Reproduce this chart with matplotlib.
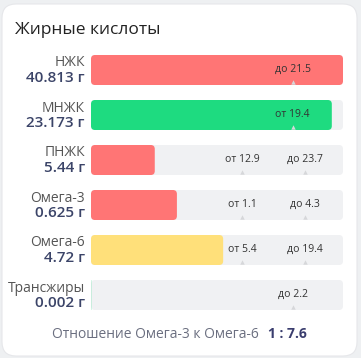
import matplotlib.pyplot as plt
from matplotlib.patches import FancyBboxPatch

plt.rcParams['font.family'] = ['Open Sans', 'DejaVu Sans']

# данные
names = ['НЖК', 'МНЖК', 'ПНЖК', 'Омега-3', 'Омега-6', 'Трансжиры']
values = [40.813, 23.173, 5.44, 0.625, 4.72, 0.002]
value_labels = ['40.813 г', '23.173 г', '5.44 г', '0.625 г', '4.72 г', '0.002 г']
low = [None, 19.4, 12.9, 1.1, 5.4, None]
high = [21.5, None, 23.7, 4.3, 19.4, 2.2]
colors = ['#ff7575', '#1edb80', '#ff7575', '#ff7575', '#ffe07a', '#1edb80']
ratio = '1 : 7.6'

W, H = 361, 358
fig = plt.figure(figsize=(W / 100, H / 100), dpi=100)
fig.patch.set_facecolor('#eef0f2')

# фон-карточка
bg = fig.add_axes([0, 0, 1, 1])
bg.set_xlim(0, W)
bg.set_ylim(H, 0)
bg.axis('off')
bg.add_patch(FancyBboxPatch((2, 4), 355, 352, boxstyle='round,pad=0,rounding_size=14',
                            fc='white', ec='#e6e7ea', lw=0.8))
bg.text(15, 30, 'Жирные кислоты', fontsize=12.5, color='#222222', va='center', ha='left')

# полосы
x0, x1 = 91, 343
top, row_h, bar_h = 55, 45, 30
n = len(names)
ax_h = (n - 1) * row_h + bar_h
ax = fig.add_axes([x0 / W, 1 - (top + ax_h) / H, (x1 - x0) / W, ax_h / H])
ax.set_xlim(0, 1)
half = bar_h / row_h / 2
ax.set_ylim(n - 1 + half, -half)
ax.axis('off')

LOW_POS, HIGH_POS, SINGLE_POS = 0.6, 0.85, 0.8


def frac(i):
    if low[i] is not None and high[i] is not None:
        f = values[i] / low[i] * LOW_POS
    elif low[i] is not None:
        f = values[i] / low[i] * SINGLE_POS
    else:
        f = values[i] / high[i] * SINGLE_POS
    return min(f, 1.0)


fracs = [frac(i) for i in range(n)]
rows = list(range(n))
tracks = ax.barh(rows, [1] * n, height=2 * half, left=0, color='none')
bars = ax.barh(rows, fracs, height=2 * half, left=0, color='none')

r = 4 / (x1 - x0)
asp = (x1 - x0) / row_h
for rect_list, cols in ((tracks, ['#f0f1f3'] * n), (bars, colors)):
    for rect, c in zip(rect_list, cols):
        w = rect.get_width()
        if w <= 0:
            continue
        rs = min(r, w / 2)
        ax.add_patch(FancyBboxPatch((rect.get_x(), rect.get_y()), w, rect.get_height(),
                                    boxstyle=f'round,pad=0,rounding_size={rs}',
                                    mutation_aspect=asp, fc=c, ec='none'))

for i in range(n):
    if low[i] is not None and high[i] is not None:
        marks = [(LOW_POS, f'от {low[i]:g}'), (HIGH_POS, f'до {high[i]:g}')]
    elif low[i] is not None:
        marks = [(SINGLE_POS, f'от {low[i]:g}')]
    else:
        marks = [(SINGLE_POS, f'до {high[i]:g}')]
    for pos, lab in marks:
        ax.text(pos, i - 0.02, lab, fontsize=7.5, color='#333333', ha='center', va='center')
        ax.plot(pos, i + half - 0.06, marker='^', ms=3.2, color='#d6d7da', mec='none')

# подписи слева
for i in range(n):
    yc = top + i * row_h + bar_h / 2
    bg.text(85, yc - 7, names[i], fontsize=10, color='#555555', ha='right', va='center')
    bg.text(85, yc + 8, value_labels[i], fontsize=11, color='#3b4468', ha='right',
            va='center', fontweight='semibold')

bg.text(259, 334, 'Отношение Омега-3 к Омега-6', fontsize=10, color='#6b6f80',
        ha='right', va='center')
bg.text(268, 334, ratio, fontsize=10, color='#3a3d6e', ha='left', va='center',
        fontweight='bold')

fig.savefig('out.png', dpi=100, facecolor=fig.get_facecolor())
